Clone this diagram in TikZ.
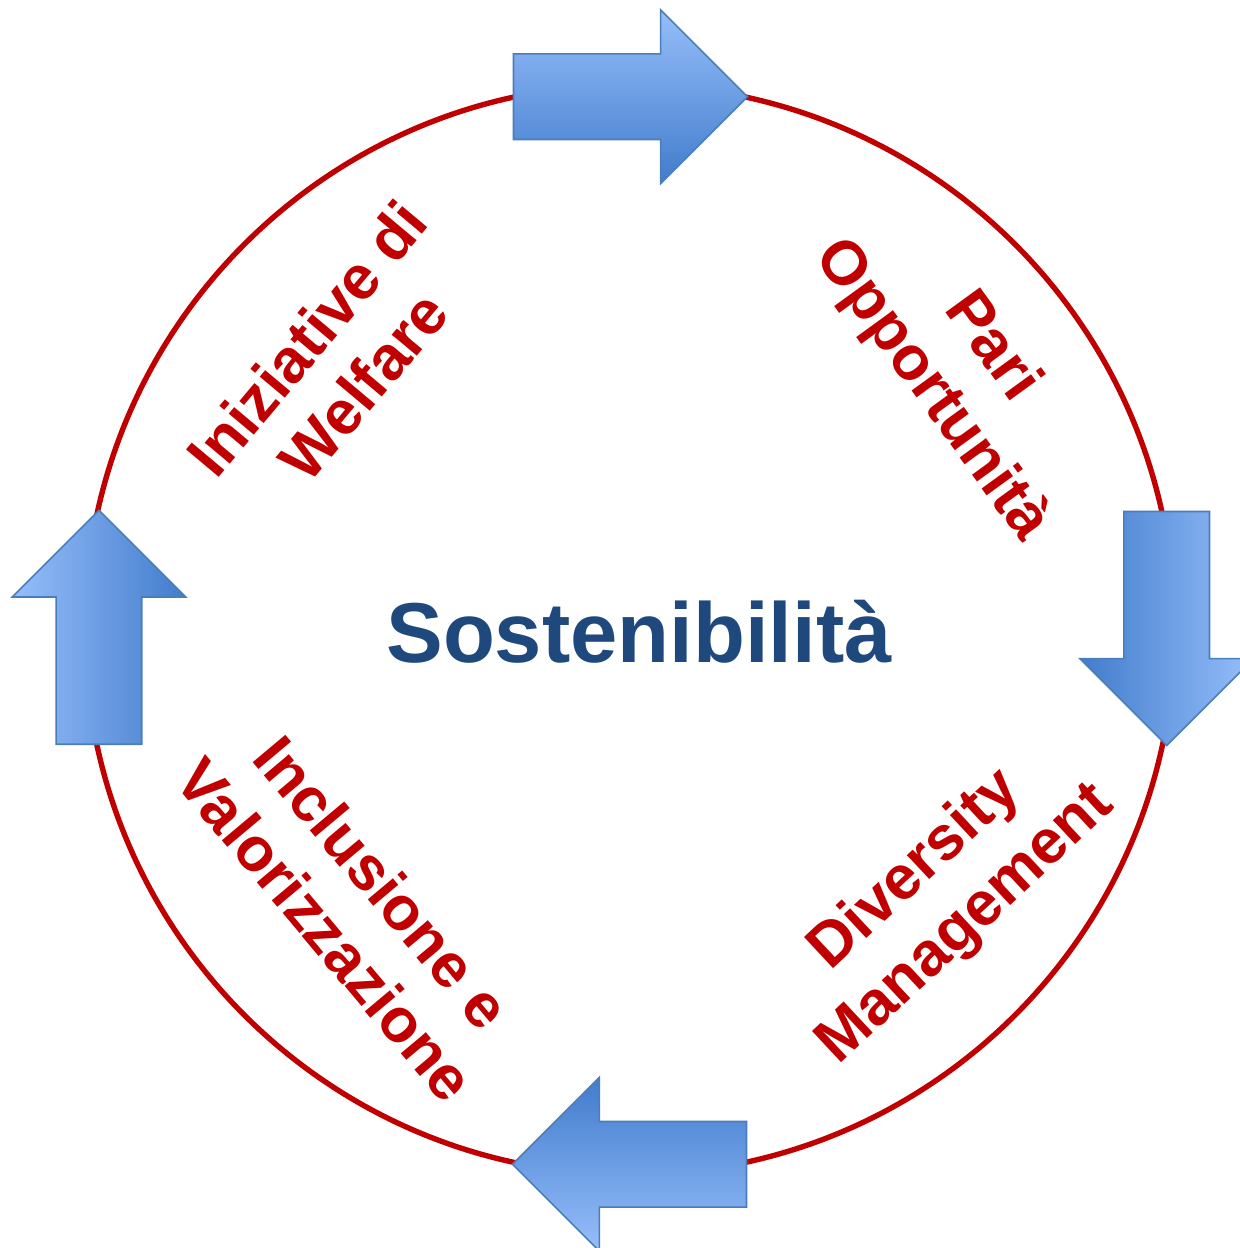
\documentclass[tikz,border=0pt]{standalone}
\usepackage{fontspec}
\setmainfont{Liberation Sans}
\usetikzlibrary{shapes.arrows}
\definecolor{ringred}{RGB}{192,0,0}
\definecolor{arrowlight}{RGB}{150,190,250}
\definecolor{arrowdark}{RGB}{66,124,204}
\definecolor{arrowline}{RGB}{74,126,187}
\definecolor{titleblue}{RGB}{31,73,125}
\begin{document}
\begin{tikzpicture}[x=0.5pt, y=0.5pt]
	\tikzstyle{flow} = [single arrow, single arrow head extend=22pt, single arrow tip angle=90, minimum height=117pt, inner xsep=0pt, inner ysep=21pt, draw=arrowline, line width=0.8pt, top color=arrowlight, bottom color=arrowdark, anchor=tail]
	\tikzstyle{topic} = [text=ringred, font=\fontsize{31}{37}\selectfont\bfseries, align=center]
	\useasboundingbox (-629.7,-618.3) rectangle (610.3,629.7);
	\node[circle, draw=ringred, line width=2.7pt, minimum size=545pt](ring)at (0,0){};
	% the four arrows running round the ring, placed by their tails
	\node[flow, rotate=0, shading angle=0](a1)at (-117,533){};
	\node[flow, rotate=-90, shading angle=-90](a2)at (537,119){};
	\node[flow, rotate=180, shading angle=180](a3)at (117.6,-534.6){};
	\node[flow, rotate=90, shading angle=90](a4)at (-530.7,-115.3){};
	\node[topic, rotate=50](welfare)at (-294.7,267.7){Iniziative di\\Welfare};
	\node[topic, rotate=-54](pari)at (331.3,260.7){Pari\\Opportunità};
	\node[topic, rotate=43](diversity)at (311.3,-268.3){Diversity\\Management};
	\node[topic, rotate=-50](inclusione)at (-275.7,-276.3){Inclusione e\\Valorizzazione};
	\node[text=titleblue, font=\fontsize{42.5}{50}\selectfont\bfseries, anchor=base](title)at (9.3,-32.3){Sostenibilità};
\end{tikzpicture}
\end{document}
